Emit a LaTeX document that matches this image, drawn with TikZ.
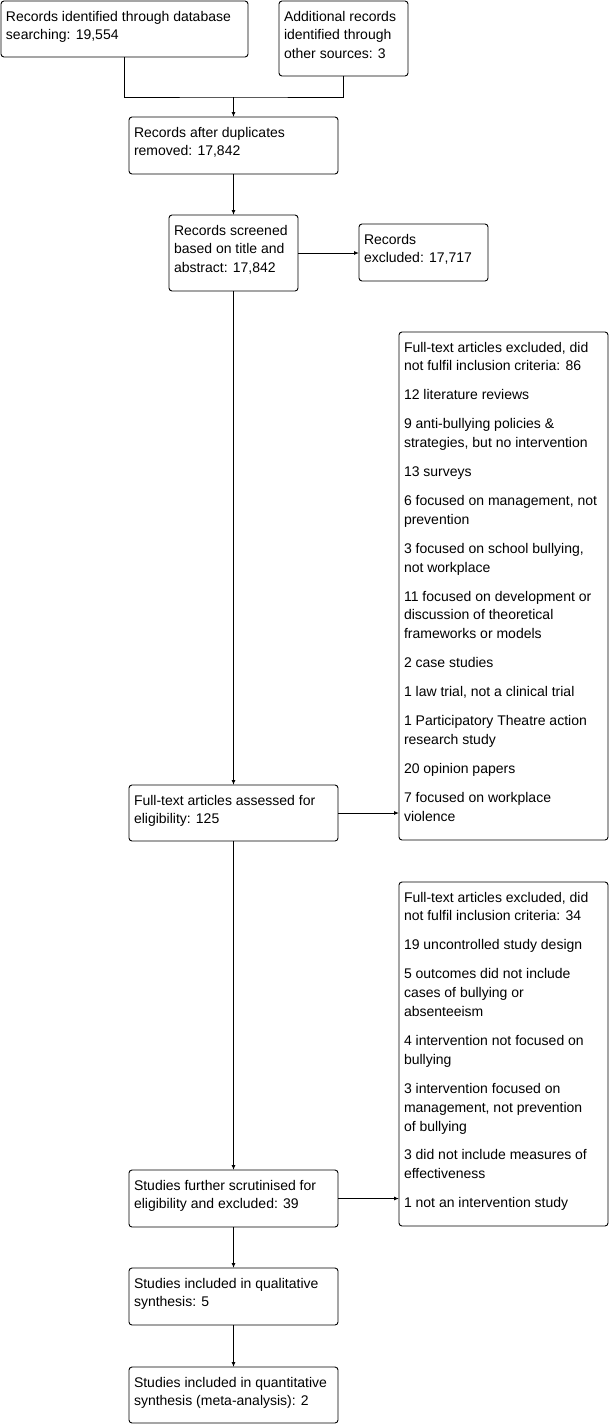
\documentclass[tikz,border=0pt]{standalone}
\usepackage{fontspec}
\setmainfont{Liberation Sans}
\usetikzlibrary{arrows.meta}
\newcommand\btext[3]{\begin{minipage}[c][#2][t]{#1}\raggedright\setlength{\leftskip}{5pt}\setlength{\rightskip}{0pt plus 1fil minus 60pt}\fontsize{14}{18.9}\selectfont\rule{0pt}{20pt}#3\end{minipage}}
\tikzset{
  box/.style={draw, rounded corners=3pt, line width=0.9pt, inner sep=0pt, outer sep=0pt, anchor=north west},
  ln/.style={line width=0.9pt},
  arr/.style={line width=0.9pt, -{Latex[length=5pt,width=4pt]}}
}
\begin{document}
\begin{tikzpicture}[x=1pt,y=-1pt]
\fill[white] (0,0) rectangle (611,1424);
\useasboundingbox (0,0) rectangle (611,1424);
\node[box] (b1) at (1,1) {\btext{247pt}{56pt}{Records identified through database\\searching: 19,554}};
\node[box] (b2) at (279,1) {\btext{129pt}{75pt}{Additional records\\identified through\\other sources: 3}};
\node[box] (b3) at (129,117) {\btext{209pt}{57pt}{Records after duplicates\\removed: 17,842}};
\node[box] (b4) at (169,215) {\btext{129pt}{76pt}{Records screened\\based on title and\\abstract: 17,842}};
\node[box] (b5) at (359,224) {\btext{129pt}{57pt}{Records\\excluded: 17,717}};
\node[box] (b6) at (399,332) {\btext{209pt}{508pt}{Full-text articles excluded, did\\not fulfil inclusion criteria: 86\\[10pt]12 literature reviews\\[10pt]9 anti-bullying policies \&\\strategies, but no intervention\\[10pt]13 surveys\\[10pt]6 focused on management, not\\prevention\\[10pt]3 focused on school bullying,\\not workplace\\[10pt]11 focused on development or\\discussion of theoretical\\frameworks or models\\[10pt]2 case studies\\[10pt]1 law trial, not a clinical trial\\[10pt]1 Participatory Theatre action\\research study\\[10pt]20 opinion papers\\[10pt]7 focused on workplace\\violence}};
\node[box] (b7) at (129,785) {\btext{209pt}{56pt}{Full-text articles assessed for\\eligibility: 125}};
\node[box] (b8) at (399,882) {\btext{209pt}{344pt}{Full-text articles excluded, did\\not fulfil inclusion criteria: 34\\[10pt]19 uncontrolled study design\\[10pt]5 outcomes did not include\\cases of bullying or\\absenteeism\\[10pt]4 intervention not focused on\\bullying\\[10pt]3 intervention focused on\\management, not prevention\\of bullying\\[10pt]3 did not include measures of\\effectiveness\\[10pt]1 not an intervention study}};
\node[box] (b9) at (129,1170) {\btext{209pt}{57pt}{Studies further scrutinised for\\eligibility and excluded: 39}};
\node[box] (b10) at (129,1268) {\btext{209pt}{57pt}{Studies included in qualitative\\synthesis: 5}};
\node[box] (b11) at (129,1367) {\btext{209pt}{56pt}{Studies included in quantitative\\synthesis (meta-analysis): 2}};
\coordinate (m) at (233.5,97);
\draw[ln] (b1.south) |- (m) -| (b2.south);
\draw[arr] (m) -- (b3.north);
\draw[arr] (b3.south) -- (b4.north);
\draw[arr] (b4.east) -- (b4.east -| b5.west);
\draw[arr] (b4.south) -- (b7.north);
\draw[arr] (b7.east) -- (b7.east -| b6.west);
\draw[arr] (b7.south) -- (b9.north);
\draw[arr] (b9.east) -- (b9.east -| b8.west);
\draw[arr] (b9.south) -- (b10.north);
\draw[arr] (b10.south) -- (b11.north);
\end{tikzpicture}
\end{document}
